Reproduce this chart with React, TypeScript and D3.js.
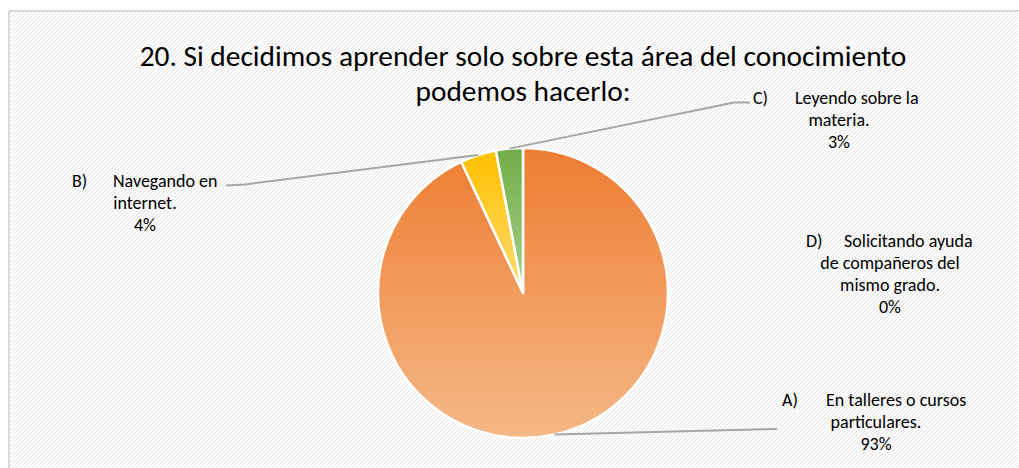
import React from "react";
import * as d3 from "d3";

const categories = ["A", "D", "B", "C"];
const values = [93, 0, 4, 3];
const labelLead = ["A)", "D)", "B)", "C)"];
const labelLines = [
  ["En talleres o cursos", "particulares.", "93%"],
  ["Solicitando ayuda", "de compañeros del", "mismo grado.", "0%"],
  ["Navegando en", "internet.", "4%"],
  ["Leyendo sobre la", "materia.", "3%"],
];
const titleLines = [
  "20. Si decidimos aprender solo sobre esta área del conocimiento",
  "podemos hacerlo:",
];

const W = 1019;
const H = 468;
const cx = 523;
const cy = 293;
const R = 145;
const FONT = "Carlito, Calibri, 'Open Sans', Lato, sans-serif";

const gradients: Record<string, [string, string]> = {
  A: ["#ED7D31", "#F5B887"],
  D: ["#5B9BD5", "#9DC3E6"],
  B: ["#FFC000", "#FFDC73"],
  C: ["#70AD47", "#A9D18E"],
};

// label layout: lead x, text block center x, first baseline, leader end
const labelLayout = [
  { leadX: 782, cx: 876, y: 406, line: [[777, 429]] as number[][], firstX: 826 },
  { leadX: 806, cx: 890, y: 247, line: null, firstX: 844 },
  { leadX: 72, cx: 145, y: 187, line: [[245, 184.5], [226, 185.5]] as number[][], firstX: 113 },
  { leadX: 753, cx: 839, y: 104, line: [[734, 102.5], [750, 102.5]] as number[][], firstX: 795 },
];

export default function App() {
  const pie = d3
    .pie<number>()
    .sort(null)
    .value((d) => d)
    .startAngle(0)
    .endAngle(2 * Math.PI);
  // order clockwise from top: A, D, B, C
  const arcs = pie(values);
  const arc = d3.arc<d3.PieArcDatum<number>>().innerRadius(0).outerRadius(R);

  return (
    <svg
      width={W}
      height={H}
      style={{ position: "absolute", left: 0, top: 0, background: "#fff" }}
    >
      <defs>
        <pattern id="hatch" width="4" height="4" patternUnits="userSpaceOnUse">
          <rect width="4" height="4" fill="#fdfdfd" />
          <path d="M-1,1 l2,-2 M0,4 l4,-4 M3,5 l2,-2" stroke="#e4e4e4" strokeWidth="1" />
        </pattern>
        {categories.map((c) => (
          <linearGradient key={c} id={"g" + c} x1="0" y1="0" x2="0" y2="1">
            <stop offset="0" stopColor={gradients[c][0]} />
            <stop offset="1" stopColor={gradients[c][1]} />
          </linearGradient>
        ))}
      </defs>
      <rect x={9} y={11} width={W} height={H} fill="url(#hatch)" stroke="#d9d9d9" strokeWidth={2} />
      <g fontFamily={FONT} fill="#000">
        {titleLines.map((t, i) => (
          <text key={i} x={cx} y={66 + i * 35} textAnchor="middle" fontSize={29.4}>
            {t}
          </text>
        ))}
      </g>
      <g transform={`translate(${cx},${cy})`}>
        {arcs.map((a, i) =>
          a.value > 0 ? (
            <path
              key={i}
              d={arc(a) || ""}
              fill={`url(#g${categories[i]})`}
              stroke="#fff"
              strokeWidth={2.5}
              strokeLinejoin="round"
            />
          ) : null
        )}
      </g>
      {arcs.map((a, i) => {
        const L = labelLayout[i];
        const mid = (a.startAngle + a.endAngle) / 2;
        const sx = cx + Math.sin(mid) * R;
        const sy = cy - Math.cos(mid) * R;
        const pts = L.line ? [[sx, sy], ...L.line] : null;
        return (
          <g key={i}>
            {pts && a.value > 0 ? (
              <path
                d={d3.line()(pts as [number, number][]) || ""}
                fill="none"
                stroke="#a6a6a6"
                strokeWidth={2}
              />
            ) : null}
            <g fontFamily={FONT} fontSize={18} fill="#000">
              <text x={L.leadX} y={L.y}>{labelLead[i]}</text>
              {labelLines[i].map((t, j) =>
                j === 0 ? (
                  <text key={j} x={L.firstX} y={L.y}>{t}</text>
                ) : (
                  <text key={j} x={L.cx} y={L.y + j * 22} textAnchor="middle">{t}</text>
                )
              )}
            </g>
          </g>
        );
      })}
    </svg>
  );
}
